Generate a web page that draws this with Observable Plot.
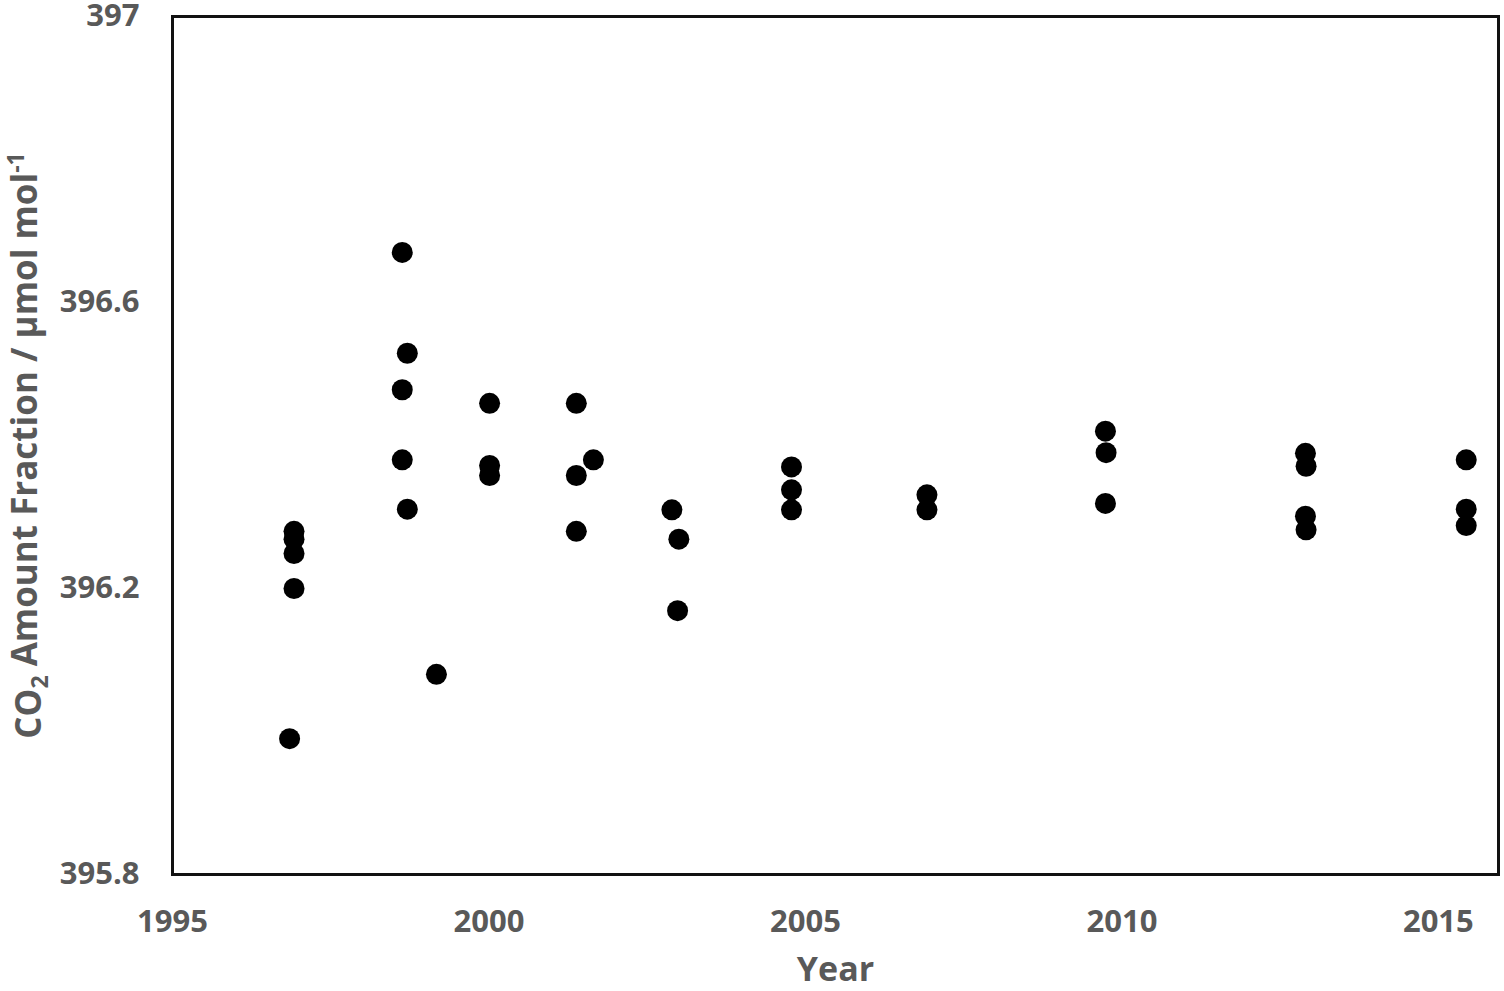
<!DOCTYPE html>
<html>
<head>
<meta charset="utf-8">
<script src="https://cdn.jsdelivr.net/npm/d3@7"></script>
<script src="https://cdn.jsdelivr.net/npm/@observablehq/plot@0.6"></script>
<style>
  html, body { margin: 0; padding: 0; background: #fff; }
  svg { overflow: visible; }
</style>
</head>
<body>
<div id="chart"></div>
<script>
// Measurement years (decimal) and CO2 amount fractions (µmol/mol)
const years = [
  1998.63, 1998.71, 1998.63, 1998.63, 1998.71,
  1996.92, 1996.92, 1996.92, 1996.92, 1996.85,
  1999.17,
  2000.01, 2000.01, 2000.01,
  2001.38, 2001.38, 2001.38, 2001.65,
  2002.89, 2003.00, 2002.98,
  2004.78, 2004.78, 2004.78,
  2006.92, 2006.92,
  2009.74, 2009.75, 2009.74,
  2012.90, 2012.91, 2012.90, 2012.91,
  2015.44, 2015.44, 2015.44
];
const values = [
  396.670, 396.529, 396.478, 396.380, 396.311,
  396.280, 396.269, 396.249, 396.200, 395.990,
  396.080,
  396.459, 396.372, 396.358,
  396.459, 396.358, 396.280, 396.380,
  396.310, 396.269, 396.169,
  396.370, 396.338, 396.310,
  396.331, 396.310,
  396.420, 396.390, 396.319,
  396.389, 396.371, 396.301, 396.282,
  396.380, 396.311, 396.288
];
const xTicks = [1995, 2000, 2005, 2010, 2015];
const yTicks = [395.8, 396.2, 396.6, 397];
const xLabel = "Year";
const yLabel = "CO2 Amount Fraction / µmol mol-1";

const data = years.map((y, i) => ({year: y, co2: values[i]}));

const gray = "#595959";
const font = "'Open Sans', Lato, sans-serif";

const chart = Plot.plot({
  width: 1504,
  height: 991,
  marginLeft: 172,
  marginRight: 6,
  marginTop: 16,
  marginBottom: 117,
  style: {fontFamily: font, fontWeight: "bold", color: gray, background: "#fff", overflow: "visible"},
  x: {domain: [1995, 2015.95]},
  y: {domain: [395.8, 397]},
  marks: [
    Plot.axisX({ticks: xTicks, tickFormat: d => String(d), tickSize: 0, tickPadding: 35,
      fontSize: 31, fill: gray, label: null}),
    Plot.axisY({ticks: yTicks, tickFormat: d => (d === 397 ? "397" : d.toFixed(1)), tickSize: 0,
      tickPadding: 33, fontSize: 31, fill: gray, label: null}),
    Plot.text([xLabel], {frameAnchor: "bottom", dy: 96, fontSize: 34, fill: gray,
      fontWeight: "bold", lineAnchor: "middle"}),
    Plot.text([yLabel], {frameAnchor: "left", dx: -143, rotate: -90, fontSize: 35, fill: gray,
      fontWeight: "bold", lineAnchor: "middle", textAnchor: "middle"}),
    Plot.frame({stroke: "#111", strokeWidth: 3}),
    Plot.dot(data, {x: "year", y: "co2", r: 10.5, fill: "black", stroke: "none"})
  ]
});

// Subscript / superscript in the y-axis title
d3.select(chart).selectAll("text").filter(function() {
  return this.textContent === yLabel;
}).each(function() {
  const t = d3.select(this);
  t.text(null);
  t.append("tspan").text("CO");
  t.append("tspan").attr("font-size", "23px").attr("dy", "0.3em").text("2");
  t.append("tspan").attr("dy", "-0.3em").text(" Amount Fraction / µmol mol");
  t.append("tspan").attr("font-size", "23px").attr("dy", "-0.55em").text("-1");
});

document.getElementById("chart").appendChild(chart);
</script>
</body>
</html>
